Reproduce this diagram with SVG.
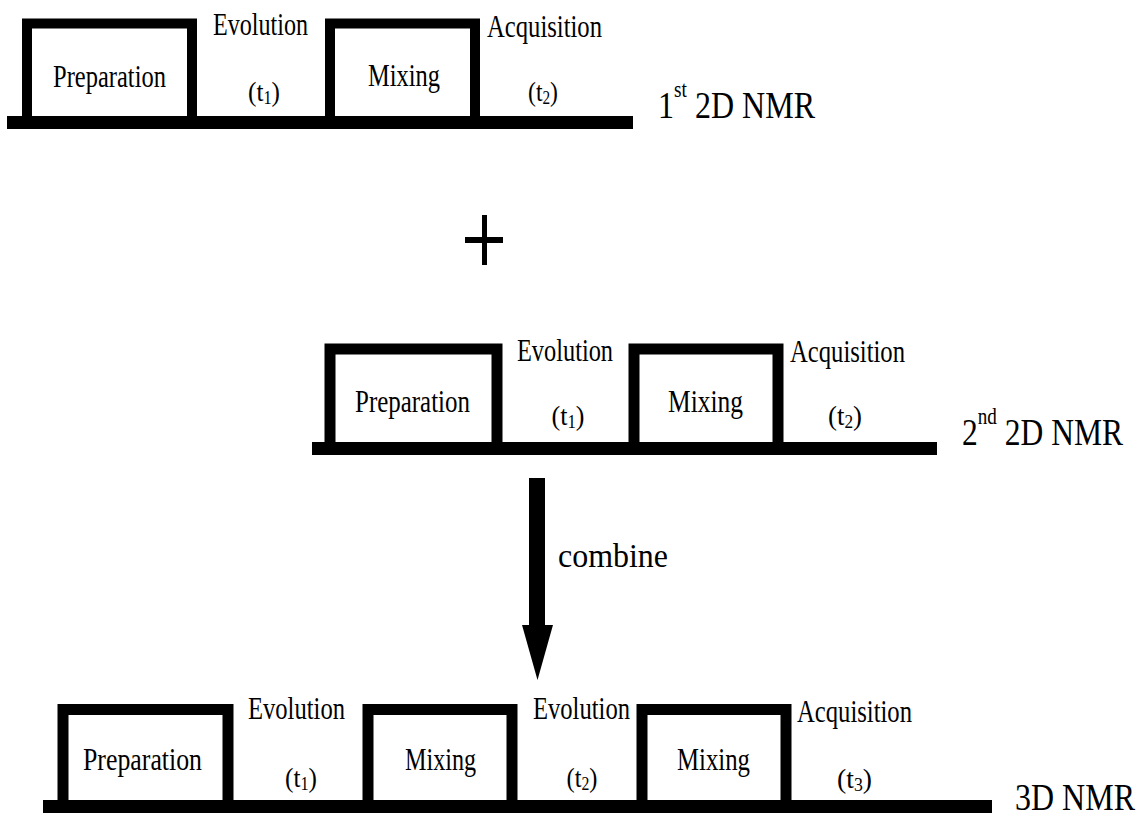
<svg xmlns="http://www.w3.org/2000/svg" width="1141" height="813" viewBox="0 0 1141 813" font-family="Liberation Serif, serif">
  <style>
    .bar { fill: #000; }
    .pulse { fill: none; stroke: #000; stroke-width: 10; stroke-linejoin: miter; stroke-linecap: butt; }
    text { font-family: 'Liberation Serif', 'Times New Roman', serif; fill: #000; }
    .lbl { font-size: 32px; text-anchor: middle; }
    .t { font-size: 28px; text-anchor: middle; }
    .sub { font-size: 18px; }
    .nmr { font-size: 38px; }
    .sup { font-size: 23px; }
  </style>
  <rect width="1141" height="813" fill="#fff"/>

  <!-- 1st 2D NMR sequence -->
  <g id="seq1">
    <rect class="bar" x="7" y="116" width="626" height="13"/>
    <g id="seq1-preparation">
      <path class="pulse" d="M27,116 V23.5 H192 V116"/>
      <text class="lbl" x="109.5" y="87" textLength="113" lengthAdjust="spacingAndGlyphs">Preparation</text>
    </g>
    <g id="seq1-evolution">
      <text class="lbl" x="260.5" y="35" textLength="95" lengthAdjust="spacingAndGlyphs">Evolution</text>
      <text class="t" x="264" y="101" textLength="32" lengthAdjust="spacingAndGlyphs">(t<tspan class="sub" dy="3">1</tspan><tspan dy="-3">)</tspan></text>
    </g>
    <g id="seq1-mixing">
      <path class="pulse" d="M330,116 V23.5 H475 V116"/>
      <text class="lbl" x="404" y="86" textLength="72" lengthAdjust="spacingAndGlyphs">Mixing</text>
    </g>
    <g id="seq1-acquisition">
      <text class="lbl" x="544.5" y="37" textLength="115" lengthAdjust="spacingAndGlyphs">Acquisition</text>
      <text class="t" x="543" y="101" textLength="30" lengthAdjust="spacingAndGlyphs">(t<tspan class="sub" dy="3">2</tspan><tspan dy="-3">)</tspan></text>
    </g>
    <text id="seq1-title" class="nmr" x="658" y="118" textLength="157" lengthAdjust="spacingAndGlyphs">1<tspan class="sup" dy="-21">st</tspan><tspan dy="21"> 2D NMR</tspan></text>
  </g>

  <!-- plus sign -->
  <g id="plus">
    <rect x="465" y="237" width="38" height="6" fill="#000"/>
    <rect x="482" y="215" width="5" height="50" fill="#000"/>
  </g>

  <!-- 2nd 2D NMR sequence -->
  <g id="seq2">
    <rect class="bar" x="312" y="442" width="625" height="13"/>
    <g id="seq2-preparation">
      <path class="pulse" d="M330,442 V349 H497 V442" style="stroke-width:11"/>
      <text class="lbl" x="412.5" y="412" textLength="115" lengthAdjust="spacingAndGlyphs">Preparation</text>
    </g>
    <g id="seq2-evolution">
      <text class="lbl" x="565" y="361" textLength="96" lengthAdjust="spacingAndGlyphs">Evolution</text>
      <text class="t" x="568" y="425" textLength="33" lengthAdjust="spacingAndGlyphs">(t<tspan class="sub" dy="3">1</tspan><tspan dy="-3">)</tspan></text>
    </g>
    <g id="seq2-mixing">
      <path class="pulse" d="M634,442 V349 H778 V442" style="stroke-width:11"/>
      <text class="lbl" x="705.5" y="412" textLength="75" lengthAdjust="spacingAndGlyphs">Mixing</text>
    </g>
    <g id="seq2-acquisition">
      <text class="lbl" x="847.5" y="362" textLength="115" lengthAdjust="spacingAndGlyphs">Acquisition</text>
      <text class="t" x="845" y="425" textLength="34" lengthAdjust="spacingAndGlyphs">(t<tspan class="sub" dy="3">2</tspan><tspan dy="-3">)</tspan></text>
    </g>
    <text id="seq2-title" class="nmr" x="962" y="445" textLength="161" lengthAdjust="spacingAndGlyphs">2<tspan class="sup" dy="-21">nd</tspan><tspan dy="21"> 2D NMR</tspan></text>
  </g>

  <!-- combine arrow -->
  <g id="connectors">
    <rect x="529" y="478" width="16" height="148" fill="#000"/>
    <polygon points="522,625 553,625 537.5,680" fill="#000"/>
    <text class="lbl" x="613" y="567" style="font-size:33px" textLength="110" lengthAdjust="spacingAndGlyphs">combine</text>
  </g>

  <!-- 3D NMR sequence -->
  <g id="seq3">
    <rect class="bar" x="43" y="800" width="949" height="13"/>
    <g id="seq3-preparation">
      <path class="pulse" d="M63,800 V709.5 H228 V800" style="stroke-width:11"/>
      <text class="lbl" x="142.5" y="770" textLength="119" lengthAdjust="spacingAndGlyphs">Preparation</text>
    </g>
    <g id="seq3-evolution1">
      <text class="lbl" x="296.5" y="719" textLength="97" lengthAdjust="spacingAndGlyphs">Evolution</text>
      <text class="t" x="301" y="787" textLength="32" lengthAdjust="spacingAndGlyphs">(t<tspan class="sub" dy="3">1</tspan><tspan dy="-3">)</tspan></text>
    </g>
    <g id="seq3-mixing1">
      <path class="pulse" d="M368,800 V709.5 H512 V800" style="stroke-width:11"/>
      <text class="lbl" x="440.5" y="770" textLength="71" lengthAdjust="spacingAndGlyphs">Mixing</text>
    </g>
    <g id="seq3-evolution2">
      <text class="lbl" x="581.5" y="719" textLength="97" lengthAdjust="spacingAndGlyphs">Evolution</text>
      <text class="t" x="582" y="787" textLength="31" lengthAdjust="spacingAndGlyphs">(t<tspan class="sub" dy="3">2</tspan><tspan dy="-3">)</tspan></text>
    </g>
    <g id="seq3-mixing2">
      <path class="pulse" d="M642,800 V709.5 H786 V800" style="stroke-width:11"/>
      <text class="lbl" x="713.5" y="770" textLength="73" lengthAdjust="spacingAndGlyphs">Mixing</text>
    </g>
    <g id="seq3-acquisition">
      <text class="lbl" x="854.5" y="722" textLength="115" lengthAdjust="spacingAndGlyphs">Acquisition</text>
      <text class="t" x="854.5" y="788" textLength="35" lengthAdjust="spacingAndGlyphs">(t<tspan class="sub" dy="3">3</tspan><tspan dy="-3">)</tspan></text>
    </g>
    <text id="seq3-title" class="nmr" x="1015" y="810" textLength="120" lengthAdjust="spacingAndGlyphs">3D NMR</text>
  </g>
</svg>
